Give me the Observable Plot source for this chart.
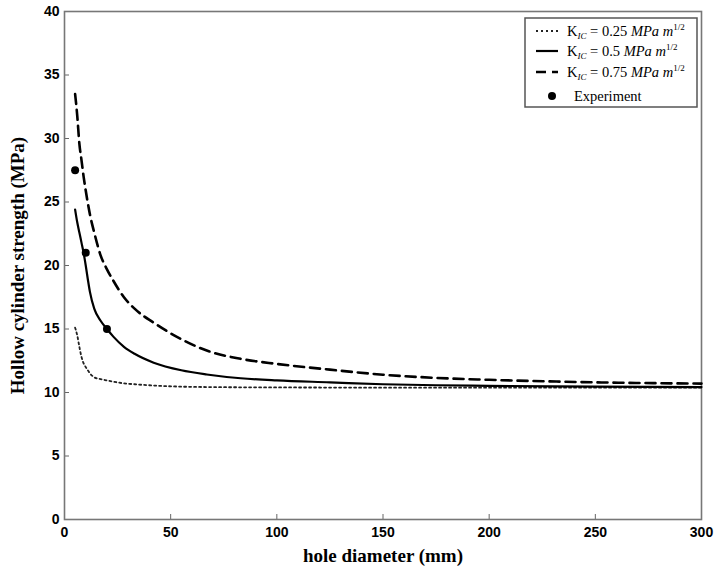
<!DOCTYPE html>
<html><head><meta charset="utf-8">
<script src="https://cdn.jsdelivr.net/npm/d3@7"></script>
<script src="https://cdn.jsdelivr.net/npm/@observablehq/plot@0.6"></script>
<style>
body{margin:0;background:#fff}
#chart{position:relative;width:714px;height:573px}
</style></head><body><div id="chart"></div>
<script>
// hole diameter (mm)
const diameter = [5,6,7,8,9,10,11,12,14,17,20,23,28,33,42,55,67,83,100,125,150,175,200,250,300];
// K_IC = 0.25 MPa m^1/2 (dotted)
const k025 = [15.1,14.5,13.6,12.8,12.3,12.0,11.75,11.5,11.2,11.05,10.95,10.85,10.72,10.65,10.55,10.46,10.43,10.41,10.4,10.39,10.38,10.38,10.38,10.38,10.38];
// K_IC = 0.5 MPa m^1/2 (solid)
const k050 = [24.4,23.4,22.6,21.8,21.0,20.0,18.9,17.9,16.6,15.65,15.0,14.4,13.6,13.05,12.35,11.75,11.42,11.12,10.95,10.8,10.65,10.57,10.52,10.47,10.43];
// K_IC = 0.75 MPa m^1/2 (dashed)
const k075 = [33.5,31.8,29.6,28.3,27.0,25.9,24.9,24.0,22.6,20.8,19.7,18.8,17.5,16.6,15.5,14.2,13.3,12.65,12.25,11.8,11.4,11.15,11.0,10.8,10.7];
// experiment
const expDiameter = [5,10,20];
const expStrength = [27.5,21,15];
// ticks and labels
const xTicks = [0,50,100,150,200,250,300];
const yTicks = [0,5,10,15,20,25,30,35,40];
const xLabel = "hole diameter (mm)";
const yLabel = "Hollow cylinder strength (MPa)";
const kValues = ["0.25","0.5","0.75"];
const expLabel = "Experiment";

const series = [
  {k: kValues[0], v: k025, dash: "2,3", width: 1.8, color: "#222"},
  {k: kValues[1], v: k050, dash: null, width: 2.2, color: "#000"},
  {k: kValues[2], v: k075, dash: "10,6", width: 2.6, color: "#000"}
];
const rows = s => diameter.map((d, i) => ({d, v: s.v[i]}));
const expRows = expDiameter.map((d, i) => ({d, v: expStrength[i]}));

const tickFont = {fontFamily: "Liberation Sans, Arial, sans-serif", fontWeight: "bold", fontSize: 14};
const titleFont = {fontFamily: "Liberation Serif, Times New Roman, serif", fontWeight: "bold", fontSize: 19};

const plot = Plot.plot({
  width: 714, height: 573,
  marginLeft: 64, marginRight: 13, marginTop: 11, marginBottom: 54,
  x: {domain: [0, 300]},
  y: {domain: [0, 40]},
  style: {background: "#fff", color: "#000"},
  marks: [
    Plot.axisX(xTicks, {...tickFont, tickSize: -5, tickPadding: 13, stroke: "#666", label: null}),
    Plot.axisY(yTicks, {...tickFont, tickSize: -5, tickPadding: 10, stroke: "#666", label: null}),
    Plot.frame({stroke: "#777", strokeWidth: 1.6}),
    ...series.map(s => Plot.line(rows(s), {x: "d", y: "v", stroke: s.color, strokeWidth: s.width, strokeDasharray: s.dash, curve: "monotone-x"})),
    Plot.dot(expRows, {x: "d", y: "v", r: 4, fill: "#000"}),
    Plot.text([xLabel], {text: d => d, frameAnchor: "bottom", dy: 36, lineAnchor: "middle", textAnchor: "middle", ...titleFont, fill: "#000"}),
    Plot.text([yLabel], {text: d => d, frameAnchor: "left", dx: -47, rotate: -90, lineAnchor: "middle", textAnchor: "middle", ...titleFont, fill: "#000"})
  ]
});
document.getElementById("chart").appendChild(plot);

// legend
const svg = d3.select(plot);
const lg = svg.append("g").attr("font-family", "Liberation Serif, Times New Roman, serif")
  .attr("font-size", 14.5).attr("fill", "#000").attr("text-anchor", "start");
lg.append("rect").attr("x", 525).attr("y", 18).attr("width", 172).attr("height", 89)
  .attr("fill", "#fff").attr("stroke", "#555").attr("stroke-width", 1.5);
const rowY = [31, 51, 72, 96];
series.forEach((s, i) => {
  const y = rowY[i];
  lg.append("line").attr("x1", 536).attr("x2", 558).attr("y1", y).attr("y2", y)
    .attr("stroke", s.color).attr("stroke-width", s.width).attr("stroke-dasharray", s.dash);
  const t = lg.append("text").attr("x", 567).attr("y", y + 5).attr("text-anchor", "start");
  t.append("tspan").text("K");
  t.append("tspan").attr("font-size", 9).attr("font-style", "italic").attr("dy", 3).text("IC");
  t.append("tspan").attr("dy", -3).text(" = " + s.k + " ");
  t.append("tspan").attr("font-style", "italic").text("MPa m");
  t.append("tspan").attr("font-size", 9).attr("dy", -6).text("1/2");
});
lg.append("circle").attr("cx", 552).attr("cy", rowY[3]).attr("r", 4).attr("fill", "#000");
lg.append("text").attr("x", 574).attr("y", rowY[3] + 5).attr("text-anchor", "start").text(expLabel);
</script></body></html>
